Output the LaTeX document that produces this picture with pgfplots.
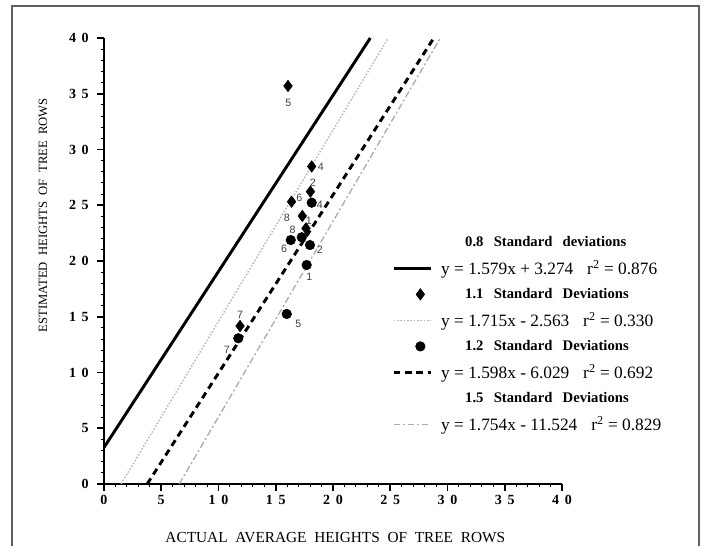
\documentclass[border=0pt]{standalone}
\usepackage{pgfplots}
\pgfplotsset{compat=1.18}
\usepackage{fontspec}
\setmainfont{Liberation Serif}
\newfontfamily\tickfont[LetterSpace=40]{Liberation Serif}
\newfontfamily\ptfont{Liberation Sans}
\newcommand\ws{\hspace{0.5em}}
\newcommand\tws{\hspace{0.7em}}
\newcommand\titlef{\bfseries\fontsize{11}{13}\selectfont}
\pgfplotsset{
  linelegend/.style={legend image code/.code={\draw[##1] (0pt,0pt) -- (28pt,0pt);}},
  marklegend/.style={legend image code/.code={\path[draw=none,fill=none] (0pt,0pt) -- (28pt,0pt); \draw[##1, /tikz/only marks] plot coordinates {(20pt,0pt)};}},
}
\begin{document}
\begin{tikzpicture}
\path[use as bounding box] (-78pt,-46.5pt) rectangle (450pt,363pt);
\draw[line width=1.5pt, gray!75!black] (-69pt,-60pt) -- (-69pt,358.5pt) -- (446.25pt,358.5pt) -- (446.25pt,-60pt);
\begin{axis}[
  at={(0pt,0pt)}, anchor=south west,
  scale only axis, width=343.5pt, height=334.5pt,
  xmin=0, xmax=40, ymin=0, ymax=40,
  axis lines=left, axis line style={-, line width=1.8pt},
  xtick={0,5,...,40}, ytick={0,5,...,40}, minor tick num=4,
  tick align=outside, major tick length=5pt, minor tick length=2.5pt,
  every major tick/.style={black, line width=1.2pt},
  every minor tick/.style={black, line width=0.8pt},
  tick label style={font=\tickfont\bfseries\fontsize{10.5}{12}\selectfont},
  yticklabel style={xshift=-3pt},
  /pgf/number format/assume math mode=true,
  clip=false,
  legend cell align=left,
  legend style={draw=none, fill=none, at={(axis cs:25.15,22.42)}, anchor=north west,
    inner sep=0pt, row sep=6pt, font=\fontsize{13}{15}\selectfont,
    nodes={inner sep=1.5pt}},
]
% regression lines
\addplot[black, line width=2.2pt, forget plot] coordinates {(0,3.274) (23.258,40)};
\addplot[gray!55, line width=1.1pt, dash pattern=on 1.2pt off 1.3pt, forget plot] coordinates {(1.494,0) (24.818,40)};
\addplot[black, line width=2.2pt, dash pattern=on 5pt off 3.5pt, forget plot] coordinates {(3.773,0) (28.804,40)};
\addplot[gray!65, line width=1pt, dash pattern=on 5pt off 2pt on 1.5pt off 2pt, forget plot] coordinates {(6.570,0) (29.375,40)};
% 1.1 SD points (diamonds)
\addplot[only marks, mark=diamond*, mark size=4.3pt, black, forget plot] coordinates {
 (16.07,35.70) (18.14,28.48) (18.03,26.22) (16.38,25.32) (17.32,24.04) (17.64,22.93) (11.88,14.17)};
% 1.2 SD points (circles)
\addplot[only marks, mark=*, mark size=3.6pt, black, forget plot] coordinates {
 (18.14,25.23) (17.27,22.13) (16.31,21.88) (17.99,21.43) (17.70,19.64) (15.96,15.25) (11.73,13.07)};
% point labels
\begin{scope}[every node/.style={font=\ptfont\fontsize{8}{9}\selectfont, text=black!75, inner sep=0pt}]
\node at (axis cs:16.10,34.14) {5};
\node at (axis cs:18.93,28.46) {4};
\node at (axis cs:18.23,27.02) {2};
\node at (axis cs:17.06,25.68) {6};
\node at (axis cs:18.86,25.02) {4};
\node at (axis cs:15.96,23.83) {8};
\node at (axis cs:17.90,23.59) {1};
\node at (axis cs:16.48,22.78) {8};
\node at (axis cs:15.72,21.05) {6};
\node at (axis cs:18.86,21.05) {2};
\node at (axis cs:17.93,18.59) {1};
\node at (axis cs:16.97,14.35) {5};
\node at (axis cs:11.88,15.16) {7};
\node at (axis cs:10.72,12.02) {7};
\end{scope}
% axis labels
\node[rotate=90, font=\fontsize{9.5}{12}\selectfont] at (axis cs:-5.33,24.1)
  {ESTIMATED\ws HEIGHTS\ws OF\ws TREE\ws ROWS};
\node[font=\fontsize{11.5}{13}\selectfont] at (axis cs:20.2,-4.84)
  {ACTUAL\ws AVERAGE\ws HEIGHTS\ws OF\ws TREE\ws ROWS};
% legend
\addlegendimage{empty legend}
\addlegendentry{\hspace*{23pt}\titlef 0.8\tws Standard\tws deviations}
\addlegendimage{black, line width=2.2pt, linelegend}
\addlegendentry{\hspace*{5pt}y = 1.579x + 3.274\hspace{0.8em}r\textsuperscript{2} = 0.876}
\addlegendimage{only marks, mark=diamond*, mark size=4.3pt, black, marklegend}
\addlegendentry{\hspace*{23pt}\titlef 1.1\tws Standard\tws Deviations}
\addlegendimage{gray!55, line width=1.1pt, dash pattern=on 1.2pt off 1.3pt, linelegend}
\addlegendentry{\hspace*{5pt}y = 1.715x - 2.563\hspace{0.8em}r\textsuperscript{2} = 0.330}
\addlegendimage{only marks, mark=*, mark size=3.6pt, black, marklegend}
\addlegendentry{\hspace*{23pt}\titlef 1.2\tws Standard\tws Deviations}
\addlegendimage{black, line width=2.2pt, dash pattern=on 5pt off 3.5pt, linelegend}
\addlegendentry{\hspace*{5pt}y = 1.598x - 6.029\hspace{0.8em}r\textsuperscript{2} = 0.692}
\addlegendimage{empty legend}
\addlegendentry{\hspace*{23pt}\titlef 1.5\tws Standard\tws Deviations}
\addlegendimage{gray!65, line width=1pt, dash pattern=on 5pt off 2pt on 1.5pt off 2pt, linelegend}
\addlegendentry{\hspace*{5pt}y = 1.754x - 11.524\hspace{0.8em}r\textsuperscript{2} = 0.829}
\end{axis}
\end{tikzpicture}
\end{document}
